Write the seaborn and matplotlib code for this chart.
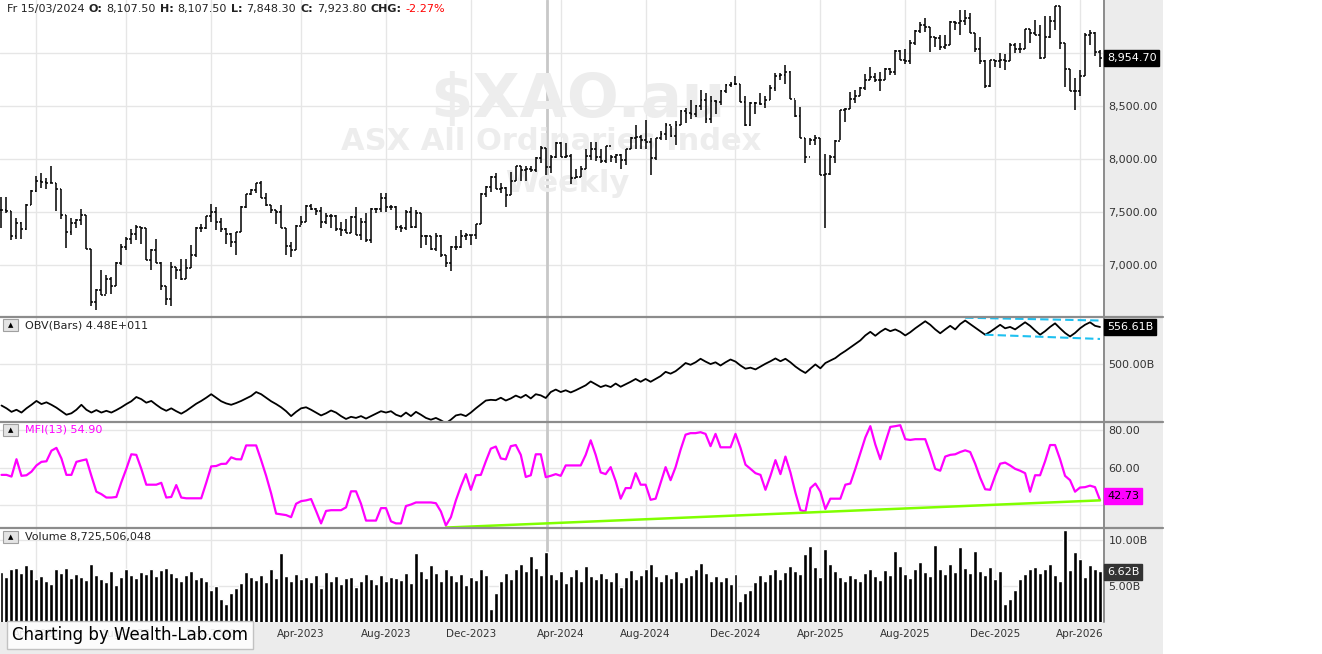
# Weekly $XAO.au chart in the Wealth-Lab style: price bars, OBV, MFI and volume
import numpy as np
import pandas as pd
import seaborn as sns
import matplotlib.pyplot as plt
from matplotlib.patches import Rectangle
from matplotlib.lines import Line2D

# ---------------- data ----------------
start_date = "2022-02-11"  # first weekly bar (Friday)

highs = [
    7640, 7640, 7510, 7440, 7410, 7580, 7710, 7840, 7870, 7820,
    7930, 7770, 7720, 7470, 7440, 7430, 7530, 7470, 7150, 6770,
    6950, 6910, 6890, 7030, 7200, 7260, 7340, 7380, 7360, 7350,
    7150, 7250, 7030, 6800, 7030, 6980, 7060, 7060, 7190, 7360,
    7390, 7460, 7580, 7550, 7440, 7350, 7300, 7310, 7560, 7670,
    7720, 7770, 7790, 7680, 7570, 7520, 7570, 7350, 7220, 7380,
    7460, 7570, 7580, 7540, 7550, 7490, 7480, 7470, 7410, 7430,
    7460, 7550, 7440, 7490, 7540, 7540, 7680, 7680, 7570, 7560,
    7380, 7520, 7550, 7520, 7490, 7280, 7270, 7300, 7280, 7090,
    7180, 7270, 7330, 7300, 7280, 7390, 7680, 7750, 7840, 7870,
    7770, 7740, 7880, 7930, 7930, 7930, 7930, 8020, 8120, 8107.5,
    8040, 8160, 8160, 8150, 8050, 7910, 7930, 8090, 8160, 8160,
    8090, 8120, 8040, 8050, 8050, 8090, 8210, 8320, 8230, 8370,
    8200, 8200, 8260, 8340, 8310, 8360, 8460, 8480, 8560, 8510,
    8650, 8620, 8590, 8560, 8650, 8710, 8730, 8780, 8710, 8590,
    8540, 8540, 8620, 8590, 8700, 8810, 8810, 8890, 8830, 8560,
    8490, 8200, 8200, 8230, 8200, 8050, 8040, 8180, 8460, 8480,
    8630, 8650, 8680, 8800, 8870, 8810, 8820, 8860, 8860, 9030,
    9030, 9040, 9120, 9220, 9290, 9330, 9250, 9150, 9170, 9170,
    9300, 9300, 9410, 9410, 9380, 9190, 9150, 8930, 8930, 8930,
    9000, 8990, 9090, 9090, 9090, 9230, 9230, 9310, 9260, 9350,
    9350, 9440, 9440, 9090, 8850, 8760, 8840, 9190, 9220, 9200,
    9030,
]
lows = [
    7350, 7490, 7240, 7250, 7250, 7330, 7570, 7690, 7730, 7720,
    7770, 7510, 7430, 7160, 7280, 7350, 7380, 7150, 6610, 6580,
    6720, 6730, 6730, 6800, 7000, 7140, 7200, 7240, 7200, 7050,
    6950, 7020, 6760, 6620, 6610, 6870, 6860, 6870, 6970, 7080,
    7310, 7340, 7410, 7330, 7310, 7200, 7170, 7090, 7310, 7540,
    7660, 7680, 7630, 7560, 7490, 7390, 7350, 7090, 7080, 7140,
    7380, 7410, 7520, 7470, 7350, 7390, 7350, 7320, 7270, 7300,
    7300, 7280, 7240, 7220, 7210, 7490, 7500, 7500, 7520, 7330,
    7310, 7330, 7350, 7350, 7160, 7190, 7140, 7130, 7080, 6980,
    6940, 7140, 7160, 7240, 7190, 7250, 7390, 7640, 7690, 7720,
    7680, 7550, 7660, 7790, 7790, 7790, 7880, 7880, 7960, 7848.3,
    7870, 8010, 8020, 8010, 7760, 7820, 7830, 7910, 7990, 7980,
    7960, 7960, 7970, 7960, 7910, 7940, 8090, 8090, 8090, 8090,
    7850, 7990, 8180, 8180, 8210, 8130, 8320, 8340, 8380, 8400,
    8460, 8340, 8340, 8420, 8510, 8620, 8680, 8700, 8540, 8310,
    8310, 8420, 8510, 8480, 8560, 8640, 8750, 8710, 8570, 8400,
    8200, 7960, 8130, 8130, 7850, 7350, 7850, 7960, 8180, 8350,
    8470, 8530, 8590, 8650, 8750, 8730, 8640, 8750, 8790, 8790,
    8930, 8900, 8900, 9080, 9190, 9200, 9010, 9060, 9030, 9040,
    9080, 9220, 9170, 9260, 9190, 9010, 8900, 8670, 8680, 8870,
    8860, 8840, 8920, 9000, 9000, 9040, 9090, 9170, 8940, 8950,
    9140, 9220, 9040, 8680, 8640, 8460, 8590, 8780, 9080, 8970,
    8870,
]
closes = [
    7520, 7510, 7270, 7400, 7340, 7570, 7700, 7790, 7780, 7770,
    7770, 7720, 7470, 7310, 7400, 7420, 7470, 7150, 6650, 6760,
    6720, 6870, 6800, 7020, 7170, 7250, 7290, 7360, 7350, 7050,
    7140, 7020, 6800, 6680, 6980, 6950, 6870, 6970, 7090, 7350,
    7350, 7460, 7500, 7410, 7340, 7290, 7220, 7310, 7550, 7670,
    7710, 7770, 7630, 7570, 7520, 7500, 7350, 7180, 7140, 7370,
    7410, 7560, 7530, 7510, 7410, 7460, 7460, 7340, 7330, 7300,
    7450, 7280, 7410, 7240, 7530, 7530, 7630, 7550, 7550, 7360,
    7350, 7500, 7360, 7490, 7270, 7270, 7150, 7270, 7090, 7020,
    7170, 7170, 7270, 7280, 7280, 7390, 7670, 7740, 7830, 7720,
    7730, 7660, 7790, 7930, 7900, 7910, 7900, 8010, 8107.5, 7923.8,
    8020, 8150, 8020, 8030, 7820, 7830, 7910, 8030, 8090, 8020,
    7980, 8120, 8020, 8040, 7990, 8090, 8200, 8210, 8180, 8160,
    8010, 8200, 8240, 8320, 8220, 8320, 8450, 8430, 8420, 8500,
    8560, 8380, 8550, 8540, 8640, 8700, 8710, 8710, 8540, 8320,
    8530, 8530, 8520, 8560, 8670, 8780, 8790, 8820, 8570, 8410,
    8200, 8020, 8180, 8200, 7850, 7860, 8020, 8170, 8460, 8470,
    8570, 8590, 8670, 8750, 8770, 8750, 8750, 8850, 8820, 9020,
    8930, 8920, 9090, 9210, 9260, 9250, 9150, 9140, 9060, 9080,
    9290, 9280, 9300, 9330, 9190, 9040, 8920, 8690, 8930, 8920,
    8930, 8920, 9080, 9040, 9040, 9230, 9190, 9170, 8950, 9150,
    9300, 9440, 9090, 8850, 8640, 8640, 8780, 9170, 9190, 9010,
    8954.7,
]

# On-balance volume, billions
obv = [
    436.5, 432.2, 426.8, 430.0, 425.7, 432.2, 437.6, 443.5, 438.7, 441.4,
    437.6, 433.2, 427.8, 422.4, 424.6, 430.0, 437.6, 430.0, 425.7, 429.5,
    425.7, 428.4, 425.7, 429.5, 433.8, 438.7, 443.0, 449.5, 446.2, 440.8,
    443.5, 437.6, 432.2, 428.4, 432.2, 427.8, 424.0, 428.4, 433.8, 439.2,
    443.5, 448.4, 453.8, 448.4, 443.0, 439.7, 437.6, 440.3, 443.5, 447.3,
    451.1, 457.1, 453.8, 448.4, 443.0, 438.7, 433.8, 427.8, 420.3, 426.8,
    432.2, 433.8, 430.0, 425.7, 421.3, 424.6, 428.9, 425.7, 420.3, 415.9,
    419.2, 417.5, 420.3, 416.5, 420.3, 424.0, 427.8, 425.7, 427.8, 422.4,
    419.7, 425.7, 420.3, 426.8, 422.4, 417.5, 414.8, 417.5, 413.8, 409.4,
    414.8, 421.3, 423.0, 420.3, 425.7, 432.2, 438.1, 444.1, 445.2, 444.6,
    448.4, 444.1, 447.3, 451.7, 448.4, 452.8, 447.3, 453.8, 452.0, 448.0,
    457.1, 460.9, 457.1, 459.8, 456.5, 459.8, 463.6, 467.4, 473.3, 469.0,
    464.7, 467.4, 464.7, 470.1, 465.2, 469.0, 472.8, 477.1, 472.8, 477.1,
    472.8, 477.1, 481.5, 488.0, 485.2, 489.0, 495.0, 501.5, 498.8, 502.6,
    508.0, 503.7, 499.9, 502.6, 497.7, 502.6, 506.9, 503.7, 497.7, 492.8,
    494.4, 491.7, 496.1, 500.4, 504.2, 508.5, 504.2, 508.0, 502.6, 496.1,
    490.7, 486.3, 492.8, 499.3, 493.4, 501.5, 505.3, 509.1, 515.0, 519.9,
    525.3, 530.7, 536.1, 543.7, 549.2, 543.2, 549.2, 554.0, 550.2, 552.9,
    549.2, 543.7, 548.6, 554.6, 560.0, 565.4, 560.0, 552.9, 547.0, 552.9,
    558.4, 552.9, 561.1, 566.5, 561.1, 555.7, 550.2, 544.8, 549.2, 554.6,
    560.0, 554.6, 556.7, 552.9, 558.4, 563.8, 558.4, 551.3, 544.8, 550.2,
    556.7, 562.2, 554.6, 547.5, 542.1, 547.5, 554.6, 560.0, 563.8, 558.4,
    556.61,
]

# Money flow index (13)
mfi = [
    56.1, 56.1, 55.2, 64.4, 55.6, 55.9, 57.8, 61.1, 63.0, 63.3,
    68.9, 70.4, 64.8, 56.1, 56.1, 63.0, 63.7, 64.3, 55.6, 47.2,
    45.9, 44.1, 44.1, 44.4, 52.2, 59.3, 67.0, 66.7, 59.3, 50.9,
    50.9, 50.9, 51.9, 44.1, 44.4, 50.7, 44.1, 43.7, 43.7, 43.7,
    43.7, 51.9, 60.6, 60.8, 61.9, 62.0, 65.4, 64.4, 64.3, 71.7,
    71.7, 71.7, 63.9, 55.6, 46.3, 35.6, 35.2, 34.8, 33.7, 40.8,
    42.2, 42.6, 43.3, 37.0, 30.4, 37.0, 37.4, 37.4, 37.4, 38.9,
    47.4, 47.4, 40.8, 31.9, 31.9, 31.9, 38.5, 38.5, 31.5, 30.4,
    30.4, 39.6, 40.4, 41.5, 41.5, 41.5, 41.5, 41.1, 36.7, 29.3,
    33.7, 42.6, 50.0, 56.5, 48.2, 55.9, 56.1, 63.3, 70.0, 71.1,
    64.8, 64.3, 71.3, 71.9, 66.7, 55.0, 55.9, 67.0, 67.0, 54.9,
    55.6, 56.5, 55.6, 61.1, 61.1, 61.1, 61.1, 66.7, 74.4, 66.7,
    57.4, 56.5, 60.2, 52.8, 43.5, 49.1, 49.1, 57.0, 50.9, 50.9,
    42.9, 43.5, 51.9, 60.2, 53.3, 60.2, 69.4, 77.4, 78.2, 78.2,
    78.7, 77.8, 71.3, 77.8, 70.7, 70.7, 70.7, 77.8, 70.4, 61.5,
    59.3, 57.0, 56.1, 48.2, 55.6, 63.9, 56.5, 65.8, 57.4, 46.7,
    37.4, 36.7, 49.1, 51.5, 47.2, 38.0, 43.5, 43.5, 43.5, 50.9,
    51.5, 59.3, 67.6, 75.9, 81.9, 72.2, 64.4, 73.2, 81.5, 81.9,
    82.4, 75.0, 74.6, 75.0, 75.0, 75.0, 67.6, 59.3, 58.3, 65.8,
    66.7, 67.0, 68.2, 69.1, 68.2, 62.0, 54.6, 48.5, 48.2, 55.6,
    62.0, 62.6, 61.1, 59.3, 58.3, 57.0, 47.2, 55.9, 55.9, 63.3,
    71.9, 71.9, 64.4, 55.6, 53.3, 47.2, 49.4, 49.6, 50.4, 49.6,
    42.73,
]

# Weekly volume, billions
volume = [
    6.5, 6.0, 6.8, 7.0, 6.4, 7.3, 6.9, 5.8, 6.1, 5.5,
    5.2, 6.8, 6.4, 7.0, 5.9, 6.3, 6.0, 5.7, 7.4, 6.2,
    5.8, 5.4, 6.6, 5.1, 6.0, 6.8, 6.2, 5.9, 6.5, 6.3,
    6.9, 6.1, 6.7, 7.0, 6.4, 6.0, 5.6, 6.2, 6.6, 5.8,
    6.0, 5.5, 4.6, 5.0, 3.6, 3.1, 4.2, 4.8, 5.3, 6.5,
    6.0, 5.7, 6.2, 5.4, 6.8, 5.9, 8.6, 6.1, 5.6, 6.3,
    5.8, 6.0, 5.4, 6.2, 4.8, 6.5, 5.5, 6.1, 5.2, 5.9,
    6.0, 4.9, 5.6, 6.3, 5.8, 5.2, 6.2, 5.6, 6.0, 5.9,
    5.7, 6.4, 5.3, 8.6, 6.6, 5.9, 7.3, 6.4, 5.5, 6.8,
    6.2, 5.6, 6.3, 5.1, 6.0, 5.7, 6.9, 6.2, 2.5, 4.3,
    5.5, 6.4, 5.8, 6.9, 7.4, 6.6, 8.3, 7.0, 6.2, 8.725506048,
    6.3, 5.8, 6.6, 5.3, 6.1, 6.8, 5.6, 7.2, 6.1, 5.8,
    6.4, 5.9, 5.5, 6.5, 4.9, 6.0, 6.7, 5.8, 6.2, 6.9,
    7.4, 6.1, 5.6, 6.3, 5.9, 6.6, 5.4, 6.0, 6.2, 6.8,
    7.5, 6.4, 5.6, 6.1, 5.5, 6.0, 5.2, 6.3, 3.4, 4.3,
    4.6, 5.4, 6.2, 5.5, 6.3, 6.9, 5.8, 6.5, 7.2, 6.6,
    6.3, 8.5, 9.4, 7.1, 6.0, 9.0, 7.4, 6.6, 6.0, 5.6,
    6.2, 5.9, 5.5, 6.4, 6.9, 6.1, 5.7, 6.7, 6.2, 8.8,
    7.2, 6.3, 5.9, 6.8, 7.6, 6.5, 6.1, 9.5, 6.8, 6.3,
    7.4, 6.5, 9.2, 7.0, 6.4, 8.8, 6.6, 6.2, 7.1, 5.8,
    6.6, 3.0, 3.6, 4.6, 5.8, 6.3, 6.9, 7.1, 6.4, 6.8,
    7.4, 6.2, 5.6, 11.1, 6.7, 8.7, 7.9, 6.0, 7.3, 6.9,
    6.62,
]

# dashed OBV channel and MFI support line: (bar, value) end points
obv_upper = [(193, 570.8), (220, 566.5)]
obv_lower = [(197, 544.8), (220, 538.3)]
mfi_support = [(89, 28.2), (220, 42.6)]

cursor_bar = 109
tick_months = [4, 8, 12]

# ---------------- frame ----------------
n = len(closes)
x = np.arange(n)
dates = pd.date_range(start_date, periods=n, freq="7D")
opens = [closes[0]] + closes[:-1]
df = pd.DataFrame({"x": x, "obv": obv, "mfi": mfi, "volume": volume})

sns.set_style("white")
plt.rcParams["font.family"] = ["DejaVu Sans"]

W, H = 1322, 654
fig = plt.figure(figsize=(W / 100, H / 100), dpi=100)
fig.patch.set_facecolor("white")


def fx(px):
    return px / W


def fy(py):
    return 1 - py / H


# gray axis strips (right value strip and bottom date strip)
fig.patches.append(Rectangle((fx(1103), 0), fx(60), 1, transform=fig.transFigure,
                             facecolor="#ececec", edgecolor="none", zorder=-1))
fig.patches.append(Rectangle((0, 0), fx(1163), fy(622), transform=fig.transFigure,
                             facecolor="#ececec", edgecolor="none", zorder=-1))

panels = [(0, 316), (317, 421), (422, 527), (528, 622)]
axes = []
for top, bottom in panels:
    ax = fig.add_axes([0, fy(bottom), fx(1103), (bottom - top) / H])
    ax.set_facecolor("white")
    axes.append(ax)
ax_p, ax_o, ax_m, ax_v = axes

# month ticks: first bar of Apr / Aug / Dec
tick_pos, tick_lab = [], []
for i in range(1, n):
    if dates[i].month in tick_months and dates[i].month != dates[i - 1].month:
        tick_pos.append(i)
        tick_lab.append(dates[i].strftime("%b-%Y"))

grid_c = "#e6e6e6"
for ax in axes:
    ax.set_xlim(-0.3, n - 0.4)
    ax.set_xticks(tick_pos)
    ax.set_xticklabels([])
    ax.tick_params(axis="x", length=0)
    ax.grid(True, color=grid_c, lw=1.0)
    ax.set_axisbelow(True)
    ax.yaxis.tick_right()
    ax.tick_params(axis="y", length=0, labelsize=8, labelcolor="#333333", pad=4)
    for s in ax.spines.values():
        s.set_visible(False)
    ax.axvline(cursor_bar + 0.2, color="#c8c8c8", lw=2, zorder=1)

# ---------------- price ----------------
ax_p.set_ylim(6519, 9500)
ax_p.set_yticks([7000, 7500, 8000, 8500, 9000])
ax_p.set_yticklabels(["7,000.00", "7,500.00", "8,000.00", "8,500.00", ""])
ax_p.vlines(x, lows, highs, color="black", lw=1.1, zorder=3)
ax_p.hlines(opens, x - 0.38, x, color="black", lw=1.1, zorder=3)
ax_p.hlines(closes, x, x + 0.38, color="black", lw=1.1, zorder=3)
wm = "#ededed"
ax_p.text(fx(578), fy(100), "$XAO.au", transform=fig.transFigure, ha="center", va="center",
          fontsize=44, fontweight="bold", color=wm, zorder=2)
ax_p.text(fx(551), fy(141), "ASX All Ordinaries Index", transform=fig.transFigure, ha="center",
          va="center", fontsize=22, fontweight="bold", color=wm, zorder=2)
ax_p.text(fx(567), fy(183), "Weekly", transform=fig.transFigure, ha="center", va="center",
          fontsize=22, fontweight="bold", color=wm, zorder=2)

# header line for the cursor bar, pieces laid out one after another
c = cursor_bar
chg = (closes[c] / closes[c - 1] - 1) * 100
pieces = [
    (dates[c].strftime("Fr %d/%m/%Y"), "normal", "#222222"),
    ("O:", "bold", "#222222"), (f"{opens[c]:,.2f}", "normal", "#222222"),
    ("H:", "bold", "#222222"), (f"{highs[c]:,.2f}", "normal", "#222222"),
    ("L:", "bold", "#222222"), (f"{lows[c]:,.2f}", "normal", "#222222"),
    ("C:", "bold", "#222222"), (f"{closes[c]:,.2f}", "normal", "#222222"),
    ("CHG:", "bold", "#222222"), (f"{chg:.2f}%", "normal", "#ff0000"),
]
renderer = fig.canvas.get_renderer()
cur = 7
for txt, fw, col in pieces:
    t = fig.text(fx(cur), fy(9), txt, ha="left", va="center", fontsize=8, fontweight=fw,
                 color=col)
    cur += t.get_window_extent(renderer).width + 4

# ---------------- OBV ----------------
ax_o.set_ylim(412.8, 571.9)
ax_o.set_yticks([500])
ax_o.set_yticklabels(["500.00B"])
sns.lineplot(data=df, x="x", y="obv", ax=ax_o, color="black", lw=1.3, zorder=3)
for seg in (obv_upper, obv_lower):
    ax_o.plot([p[0] for p in seg], [p[1] for p in seg], color="#1ec0f0", lw=1.5,
              ls=(0, (4, 2)), zorder=4)

# ---------------- MFI ----------------
ax_m.set_ylim(28.5, 84.1)
ax_m.set_yticks([40, 60, 80])
ax_m.set_yticklabels(["", "60.00", "80.00"])
sns.lineplot(data=df, x="x", y="mfi", ax=ax_m, color="#ff00ff", lw=1.6, zorder=3)
ax_m.plot([p[0] for p in mfi_support], [p[1] for p in mfi_support], color="#80ff00",
          lw=1.8, zorder=4)

# ---------------- volume ----------------
ax_v.set_ylim(1.1, 11.3)
ax_v.set_yticks([5, 10])
ax_v.set_yticklabels(["5.00B", "10.00B"])
ax_v.bar(df["x"], df["volume"], width=0.8, color="black", zorder=3)
for ax in axes:
    ax.set_xlabel("")
    ax.set_ylabel("")

# date labels in the bottom strip (the first three sit under the footer badge)
for p, lab in zip(tick_pos, tick_lab):
    xp = (p + 0.3) / (n - 0.1) * 1103
    fig.text(fx(xp), fy(634), lab, ha="center", va="center", fontsize=7.5, color="#333333")

# panel separators
for yy in (317, 421.5, 527.5):
    fig.add_artist(Line2D([0, fx(1163)], [fy(yy), fy(yy)], color="#8c8c8c", lw=1.6))
fig.add_artist(Line2D([fx(1103.5), fx(1103.5)], [fy(622), 1], color="#8c8c8c", lw=1.4))

# panel titles with the small collapse button
titles = [(325, f"OBV(Bars) {obv[c] / 100:.2f}E+011", "#222222"),
          (430, f"MFI(13) {mfi[c]:.2f}", "#ff00ff"),
          (537, f"Volume {volume[c] * 1e9:,.0f}", "#222222")]
for yy, txt, col in titles:
    fig.patches.append(Rectangle((fx(3), fy(yy + 6)), fx(15), 12 / H, transform=fig.transFigure,
                                 facecolor="#e4e4e4", edgecolor="#a0a0a0", lw=0.8, zorder=5))
    fig.text(fx(10.5), fy(yy), "▲", ha="center", va="center", fontsize=5, color="black", zorder=6)
    fig.text(fx(25), fy(yy), txt, ha="left", va="center", fontsize=8, color=col, zorder=6)

# last-value boxes on the right strip
boxes = [(58, f"{closes[-1]:,.2f}", "black", "white"),
         (327, f"{obv[-1]:.2f}B", "black", "white"),
         (496, f"{mfi[-1]:.2f}", "#ff00ff", "black"),
         (572, f"{volume[-1]:.2f}B", "#333333", "white")]
for yy, txt, bg, fg in boxes:
    fig.text(fx(1107), fy(yy), txt, ha="left", va="center", fontsize=8, color=fg,
             bbox=dict(boxstyle="square,pad=0.25", facecolor=bg, edgecolor=bg), zorder=7)

# wealth-lab footer badge
fig.text(fx(12), fy(635), "Charting by Wealth-Lab.com", ha="left", va="center", fontsize=12,
         color="black", zorder=8,
         bbox=dict(boxstyle="square,pad=0.3", facecolor="white", edgecolor="#bbbbbb",
                   alpha=0.88))

fig.savefig("out.png", dpi=100)
